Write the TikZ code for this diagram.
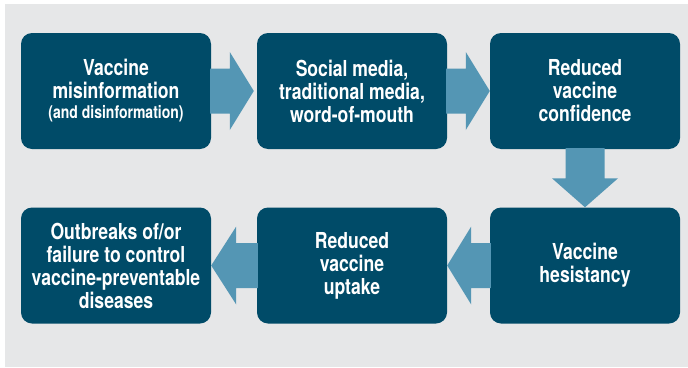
\documentclass[tikz,border=0pt]{standalone}
\usepackage{fontspec}
\setmainfont{TeX Gyre Heros}[FakeStretch=0.8]
\usetikzlibrary{calc}
\definecolor{boxc}{RGB}{0,75,104}
\definecolor{arrc}{RGB}{84,150,180}
\definecolor{bgc}{RGB}{230,231,232}
\tikzset{
  stepbox/.style={rectangle, rounded corners=11pt, fill=boxc, text=white,
    minimum width=190pt, minimum height=116pt, inner sep=0pt, align=center,
    font=\bfseries\fontsize{22}{23}\selectfont},
  blockarrow/.style={fill=arrc}
}
\begin{document}
\begin{tikzpicture}[x=1pt,y=-1pt]
\useasboundingbox (0,0) rectangle (688,367);
\fill[bgc] (5,4) rectangle (688,367);
\node[stepbox] (b1) at (116,91) {Vaccine\\misinformation\\[-3pt]{\fontsize{17.5}{20}\selectfont (and disinformation)}};
\node[stepbox] (b2) at (352,91) {Social media,\\traditional media,\\word-of-mouth};
\node[stepbox] (b3) at (585,91) {Reduced\\vaccine\\confidence};
\node[stepbox] (b4) at (116,265.5) {Outbreaks of/or\\failure to control\\vaccine-preventable\\diseases};
\node[stepbox] (b5) at (352,265.5) {Reduced\\vaccine\\uptake};
\node[stepbox] (b6) at (585,265.5) {Vaccine\\hesistancy};
% right arrows
\fill[blockarrow] ($(b1.east)+(-1,-22.5)$) -- ($(b2.west)+(-27,-22.5)$) -- ($(b2.west)+(-27,-39)$) -- ($(b2.west)+(-3,0)$) -- ($(b2.west)+(-27,39)$) -- ($(b2.west)+(-27,22.5)$) -- ($(b1.east)+(-1,22.5)$) -- cycle;
\fill[blockarrow] ($(b2.east)+(-1,-22.5)$) -- ($(b3.west)+(-24,-22.5)$) -- ($(b3.west)+(-24,-39)$) -- (b3.west) -- ($(b3.west)+(-24,39)$) -- ($(b3.west)+(-24,22.5)$) -- ($(b2.east)+(-1,22.5)$) -- cycle;
% down arrow
\fill[blockarrow] ($(b3.south)+(-19.5,-1)$) -- ($(b6.north)+(-19.5,-29)$) -- ($(b6.north)+(-33,-29)$) -- (b6.north) -- ($(b6.north)+(33,-29)$) -- ($(b6.north)+(19.5,-29)$) -- ($(b3.south)+(19.5,-1)$) -- cycle;
% left arrows
\fill[blockarrow] ($(b6.west)+(1,-22.5)$) -- ($(b5.east)+(24,-22.5)$) -- ($(b5.east)+(24,-39)$) -- (b5.east) -- ($(b5.east)+(24,39)$) -- ($(b5.east)+(24,22.5)$) -- ($(b6.west)+(1,22.5)$) -- cycle;
\fill[blockarrow] ($(b5.west)+(1,-22.5)$) -- ($(b4.east)+(25,-22.5)$) -- ($(b4.east)+(25,-39)$) -- (b4.east) -- ($(b4.east)+(25,39)$) -- ($(b4.east)+(25,22.5)$) -- ($(b5.west)+(1,22.5)$) -- cycle;
\end{tikzpicture}
\end{document}
